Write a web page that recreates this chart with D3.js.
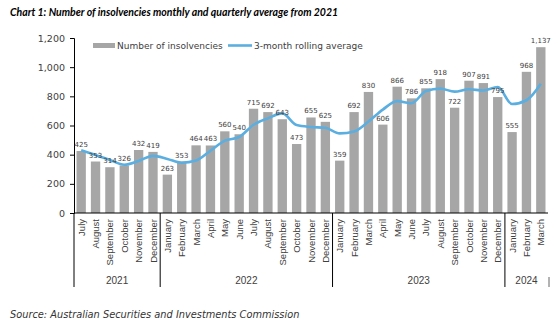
<!DOCTYPE html>
<html lang="en">
<head>
<meta charset="UTF-8" />
<title>Number of insolvencies</title>
<script src="https://d3js.org/d3.v7.min.js"></script>
<style>
  body { margin: 0; background: #fff; }
  svg { display: block; }
  .title { font-family: Lato, sans-serif; font-weight: bold; font-style: italic; font-size: 10.5px; fill: #000; }
  .tick text { font-family: "DejaVu Sans", sans-serif; font-size: 9.5px; fill: #404040; }
  .val { font-family: "DejaVu Sans", sans-serif; font-size: 7px; fill: #404040; text-anchor: middle; }
  .month { font-family: "Liberation Sans", sans-serif; font-size: 9.5px; fill: #404040; }
  .year { font-family: "Liberation Sans", sans-serif; font-size: 10px; fill: #404040; text-anchor: middle; }
  .legend { font-family: "DejaVu Sans", sans-serif; font-size: 9px; fill: #404040; }
  .source { font-family: "DejaVu Sans", sans-serif; font-style: italic; font-size: 9.8px; fill: #333; }
</style>
</head>
<body>
<div id="chart"></div>
<script>
const months = [
  "July","August","September","October","November","December",
  "January","February","March","April","May","June","July","August","September","October","November","December",
  "January","February","March","April","May","June","July","August","September","October","November","December",
  "January","February","March"
];
const years = [
  { label: "2021", count: 6 },
  { label: "2022", count: 12 },
  { label: "2023", count: 12 },
  { label: "2024", count: 3 }
];
const insolvencies = [425, 353, 314, 326, 432, 419,
  263, 353, 464, 463, 560, 540, 715, 692, 643, 473, 655, 625,
  359, 692, 830, 606, 866, 786, 855, 918, 722, 907, 891, 795,
  555, 968, 1137];
const rolling = [430, 398, 364, 331, 357, 392,
  371, 345, 360, 427, 496, 521, 605, 649, 683, 603, 590, 584,
  546, 559, 627, 709, 767, 753, 836, 853, 832, 849, 840, 864,
  747, 773, 887];
const yTicks = [0, 200, 400, 600, 800, 1000, 1200];

const width = 560, height = 326;
const plotL = 74, plotR = 548, plotT = 38, plotB = 213;

const svg = d3.select("#chart").append("svg")
  .attr("width", width).attr("height", height);

svg.append("text").attr("class", "title")
  .attr("x", 10).attr("y", 16)
  .text("Chart 1: Number of insolvencies monthly and quarterly average from 2021");

const idx = months.map((m, i) => i);
const x = d3.scaleBand().domain(idx).range([plotL, plotR]).paddingInner(0.35).paddingOuter(0.175);
const y = d3.scaleLinear().domain([0, 1200]).range([plotB, plotT]);

// y axis
const yAxis = svg.append("g")
  .attr("transform", `translate(${plotL},0)`)
  .call(d3.axisLeft(y).tickValues(yTicks).tickSize(4).tickPadding(5).tickFormat(d3.format(",")));
yAxis.selectAll("line, path").attr("stroke", "#000");

// bars
svg.append("g").selectAll("rect")
  .data(insolvencies)
  .join("rect")
  .attr("x", (d, i) => x(i))
  .attr("y", d => y(d))
  .attr("width", x.bandwidth())
  .attr("height", d => y(0) - y(d))
  .attr("fill", "#a6a6a6");

// bottom axis line
svg.append("line")
  .attr("x1", plotL).attr("x2", plotR)
  .attr("y1", y(0)).attr("y2", y(0))
  .attr("stroke", "#000");

// rolling average line
const line = d3.line()
  .x((d, i) => x(i) + x.bandwidth() / 2)
  .y(d => y(d))
  .curve(d3.curveMonotoneX);
svg.append("path")
  .datum(rolling)
  .attr("d", line)
  .attr("fill", "none")
  .attr("stroke", "#5aaee0")
  .attr("stroke-width", 2.6)
  .attr("stroke-linejoin", "round");

// value labels
svg.append("g").selectAll("text")
  .data(insolvencies)
  .join("text")
  .attr("class", "val")
  .attr("x", (d, i) => x(i) + x.bandwidth() / 2)
  .attr("y", d => y(d) - 4)
  .text(d3.format(","));

// month labels
svg.append("g").selectAll("text")
  .data(months)
  .join("text")
  .attr("class", "month")
  .attr("text-anchor", "end")
  .attr("transform", (d, i) => `translate(${x(i) + x.bandwidth() / 2 + 3.5},${plotB + 6}) rotate(-90)`)
  .text(d => d);

// year groups and dividers
const step = x.step();
let start = 0;
years.forEach((yr, k) => {
  const x0 = plotL + start * step;
  const x1 = plotL + (start + yr.count) * step;
  svg.append("text").attr("class", "year")
    .attr("x", (x0 + x1) / 2).attr("y", 284)
    .text(yr.label);
  svg.append("line")
    .attr("x1", x0).attr("x2", x0)
    .attr("y1", plotB).attr("y2", 287)
    .attr("stroke", "#000");
  if (k === years.length - 1) {
    svg.append("line")
      .attr("x1", x1 + 1).attr("x2", x1 + 1)
      .attr("y1", 277).attr("y2", 287)
      .attr("stroke", "#666");
  }
  start += yr.count;
});

// legend
const lg = svg.append("g");
lg.append("rect").attr("x", 93).attr("y", 43).attr("width", 22).attr("height", 5).attr("fill", "#a6a6a6");
lg.append("text").attr("class", "legend").attr("x", 117).attr("y", 49).text("Number of insolvencies");
lg.append("line").attr("x1", 228).attr("x2", 252).attr("y1", 45.5).attr("y2", 45.5)
  .attr("stroke", "#5aaee0").attr("stroke-width", 2.6);
lg.append("text").attr("class", "legend").attr("x", 254).attr("y", 49).text("3-month rolling average");

svg.append("text").attr("class", "source")
  .attr("x", 10).attr("y", 318)
  .text("Source: Australian Securities and Investments Commission");
</script>
</body>
</html>
